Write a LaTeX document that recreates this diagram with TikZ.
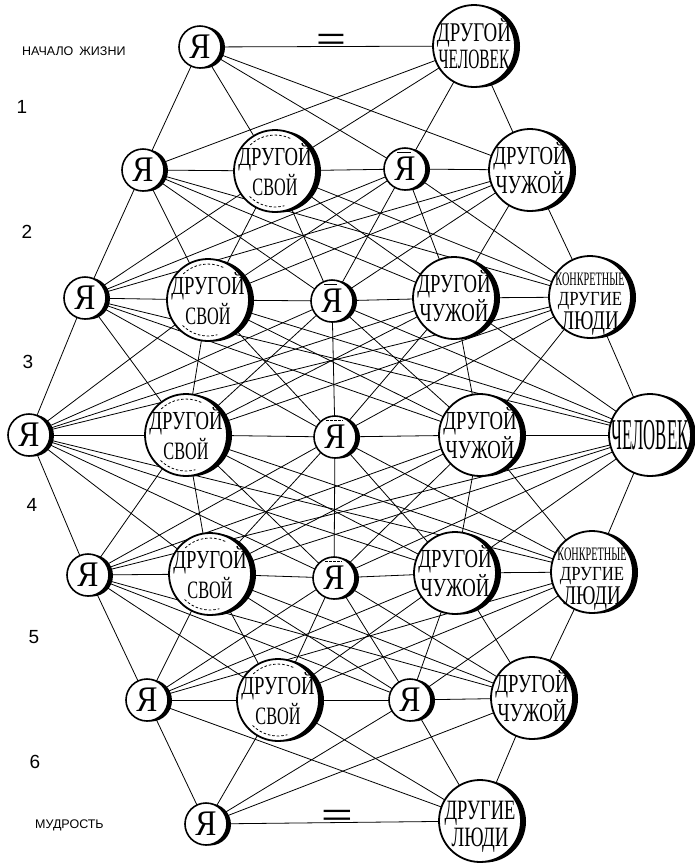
\documentclass[tikz,border=0pt]{standalone}
\usepackage{fontspec}
\setmainfont{Liberation Serif}
\newfontfamily\labfont{Liberation Sans}
\usetikzlibrary{shadows}
\pgfdeclarelayer{bg}
\pgfsetlayers{bg,main}
\newcommand\sx[2]{\smash{\scalebox{#1}[1]{#2}}}
\newcommand\yy{\scalebox{0.88}[1]{Я}}
\tikzset{
  edge/.style={line width=0.8pt, black},
  shad/.style={drop shadow={shadow xshift=#1, shadow yshift=-0.5pt, opacity=1, fill=black}},
  ya/.style={circle, draw, line width=1.6pt, fill=white, minimum size=42pt, inner sep=0pt,
             shad=4pt, font=\fontsize{36}{36}\selectfont},
  big/.style={circle, draw, line width=1.8pt, fill=white, minimum size=82pt, inner sep=0pt, shad=5pt},
  lt/.style 2 args={anchor=center, inner sep=0pt, yshift=#2, font=\fontsize{#1}{#1}\selectfont},
  ds/.style={big,
     label={[lt={26}{5.4pt}]center:\sx{0.72}{ДРУГОЙ}},
     label={[lt={25}{-24.3pt}]center:\sx{0.65}{СВОЙ}}},
  dc/.style={big,
     label={[lt={26}{5.4pt}]center:\sx{0.72}{ДРУГОЙ}},
     label={[lt={26}{-23.6pt}]center:\sx{0.72}{ЧУЖОЙ}}},
  kd/.style={big,
     label={[lt={19}{12pt}]center:\sx{0.54}{КОНКРЕТНЫЕ}},
     label={[lt={20}{-8.5pt}]center:\sx{0.84}{ДРУГИЕ}},
     label={[lt={27}{-32.5pt}]center:\sx{0.70}{ЛЮДИ}}},
  side/.style={font=\labfont\fontsize{12.5}{12.5}\selectfont, anchor=base west, inner sep=0pt},
  num/.style={font=\labfont\fontsize{19}{19}\selectfont, anchor=base, inner sep=0pt},
  eqs/.style={font=\labfont\fontsize{31}{31}\selectfont, inner sep=0pt},
  dsh/.style={line width=0.8pt, dash pattern=on 2.5pt off 2pt},
  barline/.style={line width=1pt},
}
\begin{document}
\begin{tikzpicture}[x=1pt,y=-1pt]
\useasboundingbox (0,0) rectangle (695,863);

% row 0
\node[ya] (n-0-1) at (200,47) {\yy};
\node[big,
  label={[lt={27}{5pt}]center:\sx{0.70}{ДРУГОЙ}},
  label={[lt={28}{-22pt}]center:\sx{0.55}{ЧЕЛОВЕК}}] (n-0-2) at (474,46) {};
% row 1
\node[ya] (n-1-1) at (143,170) {\yy};
\node[ds] (n-1-2) at (275,171) {};
\node[ya] (n-1-3) at (405,169) {\yy};
\node[dc] (n-1-4) at (530,170) {};
% row 2
\node[ya] (n-2-1) at (85,298) {\yy};
\node[ds] (n-2-2) at (208,300) {};
\node[ya] (n-2-3) at (332,301) {\yy};
\node[dc] (n-2-4) at (454,298) {};
\node[kd] (n-2-5) at (590,297) {};
% row 3
\node[ya] (n-3-1) at (29,435) {\yy};
\node[ds] (n-3-2) at (186,435) {};
\node[ya] (n-3-3) at (335,437) {\yy};
\node[dc] (n-3-4) at (480,435) {};
\node[big, label={[lt={44}{-14.5pt}]center:\sx{0.38}{ЧЕЛОВЕК}}] (n-3-5) at (650,435) {};
% row 4
\node[ya] (n-4-1) at (88,575) {\yy};
\node[ds] (n-4-2) at (210,574) {};
\node[ya] (n-4-3) at (334,578) {\yy};
\node[dc] (n-4-4) at (455,573) {};
\node[kd] (n-4-5) at (592,572) {};
% row 5
\node[ya] (n-5-1) at (147,700) {\yy};
\node[ds] (n-5-2) at (278,700) {};
\node[ya] (n-5-3) at (410,700) {\yy};
\node[dc] (n-5-4) at (532,698) {};
% row 6
\node[ya] (n-6-1) at (206,824) {\yy};
\node[big,
  label={[lt={28}{1.8pt}]center:\sx{0.66}{ДРУГИЕ}},
  label={[lt={28}{-25.2pt}]center:\sx{0.67}{ЛЮДИ}}] (n-6-2) at (480,821) {};

% connectors
\begin{pgfonlayer}{bg}
\foreach \p/\q/\na/\nb in {0/1/2/4,1/2/4/5,2/3/5/5,3/4/5/5,4/5/5/4,5/6/4/2}{
  \foreach \i in {1,...,\na}{
    \foreach \j in {1,...,\nb}{
      \draw[edge] (n-\p-\i.center) -- (n-\q-\j.center);
    }
  }
}
\foreach \p/\na in {0/2,1/4,2/5,3/5,4/5,5/4,6/2}{
  \foreach \i in {2,...,\na}{
    \pgfmathtruncatemacro\k{\i-1}
    \draw[edge] (n-\p-\k.center) -- (n-\p-\i.center);
  }
}
\end{pgfonlayer}

% dashed arcs inside "ДРУГОЙ СВОЙ"
\foreach \nd in {n-1-2,n-2-2,n-3-2,n-4-2,n-5-2}{
  \begin{scope}[shift={(\nd.center)}, x=1pt, y=1pt]
    \draw[dsh] (65:36) arc (65:135:36);
    \draw[dsh] (225:36) arc (225:285:36);
  \end{scope}
}
% bars over the middle Я
\draw[barline] ([xshift=-8pt,yshift=17pt]n-1-3.center) -- ([xshift=6pt,yshift=17pt]n-1-3.center);
\draw[barline] ([xshift=-8pt,yshift=17pt]n-2-3.center) -- ([xshift=5pt,yshift=17pt]n-2-3.center);
\draw[barline, dash pattern=on 2.5pt off 1.5pt] ([xshift=-9pt,yshift=17pt]n-3-3.center) -- ([xshift=8pt,yshift=17pt]n-3-3.center);
\draw[barline, dash pattern=on 2.5pt off 1.5pt] ([xshift=-9pt,yshift=17pt]n-4-3.center) -- ([xshift=8pt,yshift=17pt]n-4-3.center);

% equals signs
\node[eqs] (eq0) at (331,49) {\sx{1.65}{=}};
\node[eqs] (eq6) at (337,825) {\sx{1.75}{=}};

% side texts
\node[side] (start) at (22,55) {НАЧАЛО\hspace{6pt}ЖИЗНИ};
\node[side] (wisdom) at (35,828) {МУДРОСТЬ};
\node[num] (k1) at (22,113) {1};
\node[num] (k2) at (27,238) {2};
\node[num] (k3) at (28,368) {3};
\node[num] (k4) at (32,511) {4};
\node[num] (k5) at (34,643) {5};
\node[num] (k6) at (35,768) {6};
\end{tikzpicture}
\end{document}
